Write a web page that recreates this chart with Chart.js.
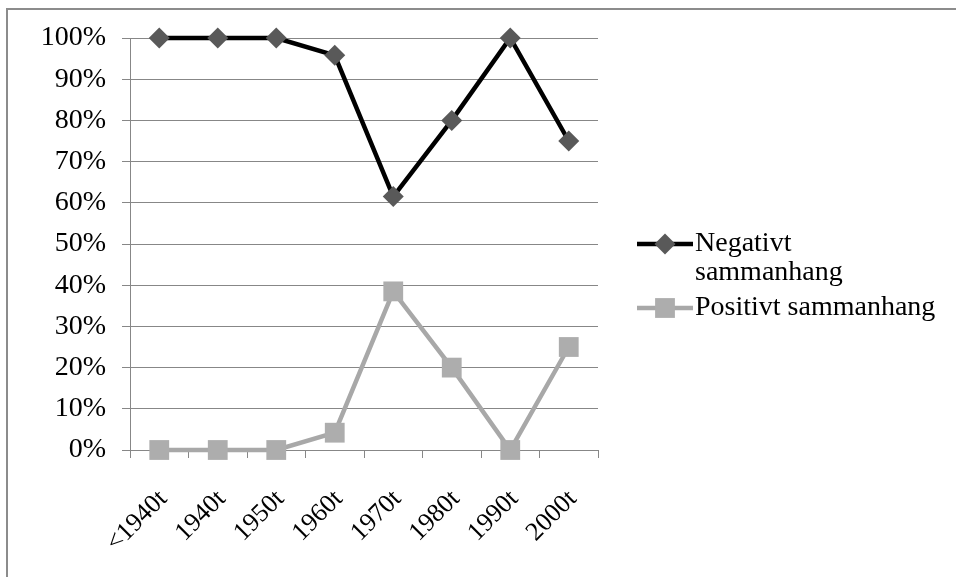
<!DOCTYPE html>
<html>
<head>
<meta charset="utf-8">
<script src="https://cdn.jsdelivr.net/npm/chart.js@4.4.0/dist/chart.umd.min.js"></script>
<style>
html, body { margin: 0; padding: 0; background: #fff; }
</style>
</head>
<body>
<canvas id="trendChart" width="956" height="577"></canvas>
<script>
var decades = ['<1940t', '1940t', '1950t', '1960t', '1970t', '1980t', '1990t', '2000t'];
var negativeShare = [100, 100, 100, 95.8, 61.5, 80, 100, 75];
var positiveShare = [0, 0, 0, 4.2, 38.5, 20, 0, 25];
var seriesNames = [['Negativt', 'sammanhang'], ['Positivt sammanhang']];

var fontFamily = '"Liberation Serif", "Times New Roman", serif';
var gridGray = '#878787';

Chart.defaults.font.family = fontFamily;
Chart.defaults.font.size = 28;
Chart.defaults.color = '#000';

// gray frame round the whole chart (only left and top edges show)
var chartFrame = {
    id: 'chartFrame',
    beforeDraw: function (chart) {
        var ctx = chart.ctx;
        ctx.save();
        ctx.strokeStyle = '#8c8c8c';
        ctx.lineWidth = 2;
        ctx.strokeRect(7, 9, 1200, 1200);
        ctx.restore();
    }
};

// legend on the right, line sample with the marker on it
var sideLegend = {
    id: 'sideLegend',
    afterDraw: function (chart) {
        var ctx = chart.ctx;
        var rows = [244, 308];
        ctx.save();
        chart.data.datasets.forEach(function (ds, i) {
            var y = rows[i];
            ctx.strokeStyle = ds.borderColor;
            ctx.lineWidth = ds.borderWidth;
            ctx.beginPath();
            ctx.moveTo(637, y);
            ctx.lineTo(693, y);
            ctx.stroke();

            ctx.fillStyle = ds.pointBackgroundColor;
            var r = ds.pointRadius;
            ctx.beginPath();
            if (ds.pointStyle === 'rectRot') {
                ctx.moveTo(665 - r, y);
                ctx.lineTo(665, y - r);
                ctx.lineTo(665 + r, y);
                ctx.lineTo(665, y + r);
                ctx.closePath();
            } else {
                var h = r * Math.SQRT1_2;
                ctx.rect(665 - h, y - h, 2 * h, 2 * h);
            }
            ctx.fill();

            ctx.fillStyle = '#000';
            ctx.font = '28px ' + fontFamily;
            ctx.textBaseline = 'middle';
            ctx.textAlign = 'left';
            ds.label.forEach(function (line, k) {
                ctx.fillText(line, 695, y + k * 29);
            });
        });
        ctx.restore();
    }
};

var ctx = document.getElementById('trendChart').getContext('2d');

var chart = new Chart(ctx, {
    type: 'line',
    data: {
        labels: decades,
        datasets: [{
            label: seriesNames[0],
            data: negativeShare,
            borderColor: '#000000',
            borderWidth: 4.5,
            pointStyle: 'rectRot',
            pointRadius: 10.5,
            pointBackgroundColor: '#595959',
            pointBorderColor: '#595959',
            pointBorderWidth: 0,
            tension: 0,
            clip: false
        }, {
            label: seriesNames[1],
            data: positiveShare,
            borderColor: '#a8a8a8',
            borderWidth: 4.5,
            pointStyle: 'rect',
            pointRadius: 14,
            pointBackgroundColor: '#adadad',
            pointBorderColor: '#adadad',
            pointBorderWidth: 0,
            tension: 0,
            clip: false
        }]
    },
    options: {
        responsive: false,
        animation: false,
        layout: {
            padding: { left: 8, top: 38, right: 358, bottom: 0 }
        },
        scales: {
            x: {
                offset: true,
                grid: {
                    offset: true,
                    drawOnChartArea: false,
                    tickLength: 8,
                    color: gridGray
                },
                border: { color: gridGray },
                ticks: {
                    autoSkip: false,
                    maxRotation: 45,
                    minRotation: 45,
                    padding: 26,
                    labelOffset: 4,
                    font: { size: 26 }
                },
                afterFit: function (scale) { scale.height = 127; }
            },
            y: {
                min: 0,
                max: 100,
                grid: { color: gridGray, tickLength: 8 },
                border: { color: gridGray },
                ticks: {
                    stepSize: 10,
                    padding: 16,
                    callback: function (v) { return v + '%'; }
                },
                afterFit: function (scale) { scale.width = 122; }
            }
        },
        plugins: {
            legend: { display: false },
            tooltip: { enabled: false }
        }
    },
    plugins: [chartFrame, sideLegend]
});
</script>
</body>
</html>
